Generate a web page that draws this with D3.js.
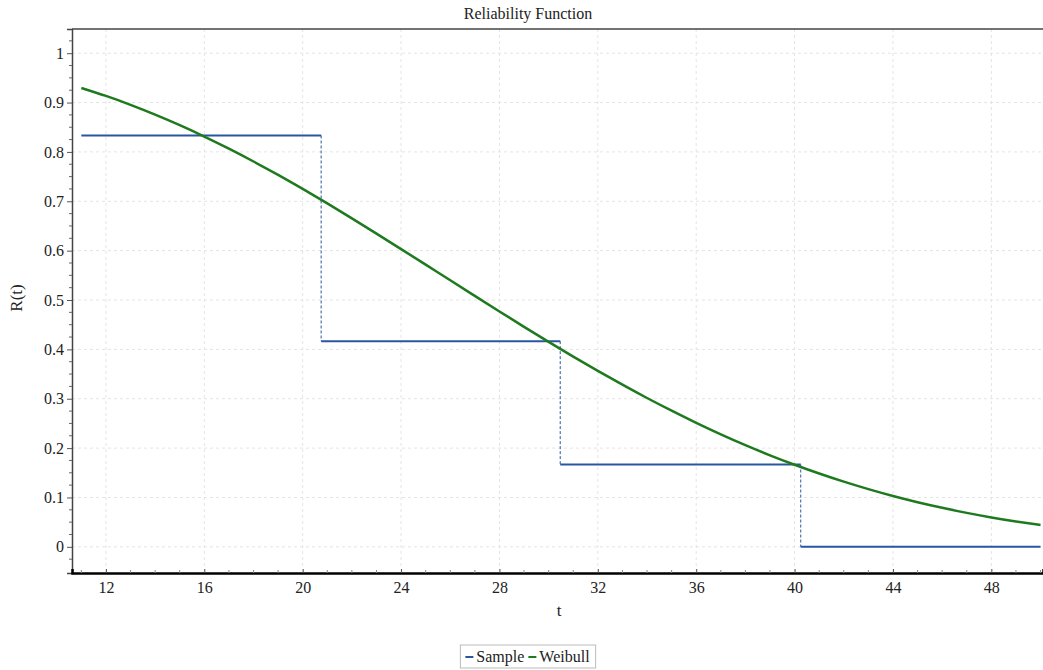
<!DOCTYPE html>
<meta charset="utf-8">
<script src="https://d3js.org/d3.v7.min.js"></script>
<style>
  body { margin: 0; background: #fff; }
</style>
<div id="chart"></div>
<script>
// sample (empirical) reliability steps
var stepTimes = [11, 20.75, 30.47, 40.25, 50];
var stepValues = [0.8333, 0.4167, 0.1667, 0];

// fitted Weibull curve
var weibullT = [11,12,13,14,15,16,17,18,19,20,21,22,23,24,25,26,27,28,29,30,
                31,32,33,34,35,36,37,38,39,40,41,42,43,44,45,46,47,48,49,50];
var weibullR = [0.9296,0.9134,0.8954,0.8756,0.8542,0.8312,0.8066,0.7806,0.7534,0.7250,
                0.6957,0.6654,0.6346,0.6032,0.5716,0.5399,0.5083,0.4768,0.4457,0.4152,
                0.3854,0.3565,0.3285,0.3015,0.2758,0.2512,0.2280,0.2060,0.1854,0.1663,
                0.1485,0.1320,0.1169,0.1030,0.0904,0.0791,0.0688,0.0596,0.0514,0.0442];

var xTicks = [12, 16, 20, 24, 28, 32, 36, 40, 44, 48];
var yTicks = [0, 0.1, 0.2, 0.3, 0.4, 0.5, 0.6, 0.7, 0.8, 0.9, 1];

var W = 1043, H = 670;
var margin = {top: 29, right: 0, bottom: 97, left: 72};
var width = W - margin.left - margin.right,
    height = H - margin.top - margin.bottom;
var serif = "'Liberation Serif', 'Times New Roman'";

var svg = d3.select("#chart").append("svg")
    .attr("width", W).attr("height", H);
var g = svg.append("g")
    .attr("transform", "translate(" + margin.left + "," + margin.top + ")");

var x = d3.scaleLinear().domain([10.62, 50.1]).range([0, width]);
var y = d3.scaleLinear().domain([-0.053, 1.049]).range([height, 0]);

// grid
g.append("g").selectAll("line").data(xTicks).enter().append("line")
    .attr("x1", d => x(d)).attr("x2", d => x(d))
    .attr("y1", 0).attr("y2", height)
    .attr("stroke", "#e4e4e4").attr("stroke-dasharray", "3,3");
g.append("g").selectAll("line").data(yTicks).enter().append("line")
    .attr("x1", 0).attr("x2", width)
    .attr("y1", d => y(d)).attr("y2", d => y(d))
    .attr("stroke", "#e4e4e4").attr("stroke-dasharray", "3,3");

// top border
g.append("line").attr("x1", 0).attr("x2", width).attr("y1", 0).attr("y2", 0)
    .attr("stroke", "#444").attr("stroke-width", 1.5);

// y axis
var yMinor = d3.range(-0.025, 1.04, 0.025).filter(v => Math.abs(v * 10 - Math.round(v * 10)) > 0.01);
var yAx = g.append("g")
    .call(d3.axisLeft(y).tickValues(yTicks).tickSize(5).tickPadding(3)
      .tickFormat(d => d3.format("")(+d.toFixed(1))));
yAx.attr("font-family", serif).attr("font-size", 16);
yAx.select(".domain").attr("stroke", "#444").attr("stroke-width", 1.5);
yAx.selectAll(".tick line").attr("stroke", "#555");
yAx.selectAll("text").attr("fill", "#222");
g.append("g").selectAll("line").data(yMinor).enter().append("line")
    .attr("x1", -3).attr("x2", 0)
    .attr("y1", d => y(d)).attr("y2", d => y(d))
    .attr("stroke", "#666");

// x axis
var xMinor = d3.range(11, 51, 1).filter(v => v % 4 !== 0);
var xAx = g.append("g").attr("transform", "translate(0," + height + ")")
    .call(d3.axisBottom(x).tickValues(xTicks).tickSize(-4).tickPadding(9));
xAx.attr("font-family", serif).attr("font-size", 16);
xAx.select(".domain").attr("stroke", "#000").attr("stroke-width", 2.5);
xAx.selectAll(".tick line").attr("stroke", "#555");
xAx.selectAll("text").attr("fill", "#222");
g.append("g").selectAll("line").data(xMinor).enter().append("line")
    .attr("x1", d => x(d)).attr("x2", d => x(d))
    .attr("y1", height - 3).attr("y2", height)
    .attr("stroke", "#888");

// sample steps: horizontal segments and dashed verticals
var steps = stepValues.map((v, i) => ({t0: stepTimes[i], t1: stepTimes[i + 1], v: v}));
g.append("g").selectAll("line").data(steps.slice(1)).enter().append("line")
    .attr("x1", d => x(d.t0)).attr("x2", d => x(d.t0))
    .attr("y1", (d, i) => y(stepValues[i])).attr("y2", d => y(d.v))
    .attr("stroke", "#2a56a0").attr("stroke-width", 1)
    .attr("stroke-dasharray", "3,2");
g.append("g").selectAll("line").data(steps).enter().append("line")
    .attr("x1", d => x(d.t0)).attr("x2", d => x(d.t1))
    .attr("y1", d => y(d.v)).attr("y2", d => y(d.v))
    .attr("stroke", "#2a56a0").attr("stroke-width", 2);

// weibull curve
var line = d3.line().x(d => x(d[0])).y(d => y(d[1])).curve(d3.curveNatural);
g.append("path").datum(weibullT.map((t, i) => [t, weibullR[i]]))
    .attr("d", line).attr("fill", "none")
    .attr("stroke", "#1f7a1f").attr("stroke-width", 2.5);

// title and axis labels
var labels = svg.append("g").attr("font-family", serif).attr("fill", "#222");
labels.append("text").attr("x", 528).attr("y", 19).attr("text-anchor", "middle")
    .attr("font-size", 16).text("Reliability Function");
labels.append("text").attr("x", 559).attr("y", 616).attr("text-anchor", "middle")
    .attr("font-size", 17).text("t");
labels.append("text").attr("transform", "translate(22,298) rotate(-90)")
    .attr("text-anchor", "middle").attr("font-size", 17).text("R(t)");

// legend
var leg = svg.append("g").attr("font-family", serif).attr("fill", "#222");
var legBox = leg.append("rect").attr("height", 23)
    .attr("fill", "#fff").attr("stroke", "#bbb");
var items = [{name: "Sample", color: "#2a56a0"}, {name: "Weibull", color: "#1f7a1f"}];
var lx = 5;
items.forEach(function(it) {
  leg.append("line").attr("x1", lx).attr("x2", lx + 8).attr("y1", 12).attr("y2", 12)
      .attr("stroke", it.color).attr("stroke-width", 2);
  var t = leg.append("text").attr("x", lx + 11).attr("y", 17)
      .attr("font-size", 16).text(it.name);
  lx += 11 + t.node().getComputedTextLength() + 4;
});
legBox.attr("width", lx + 2);
leg.attr("transform", "translate(" + (528 - (lx + 2) / 2) + ",645)");
</script>
